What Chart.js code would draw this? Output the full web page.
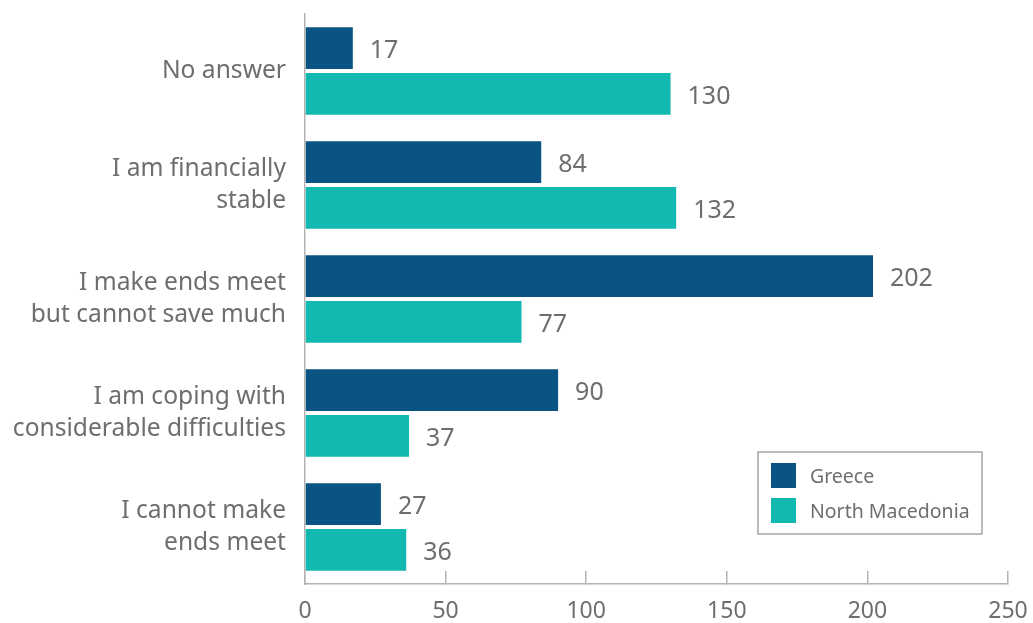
<!DOCTYPE html>
<html>
<head>
<meta charset="utf-8">
<script src="https://cdn.jsdelivr.net/npm/chart.js@4/dist/chart.umd.min.js"></script>
<style>
  html, body { margin: 0; padding: 0; background: #fff; }
  #wrap { width: 1033px; height: 623px; position: relative; }
</style>
</head>
<body>
<div id="wrap"><canvas id="grafica"></canvas></div>
<script>
// answers, top to bottom
var categorias = [
  ['No answer'],
  ['I am financially', 'stable'],
  ['I make ends meet', 'but cannot save much'],
  ['I am coping with', 'considerable difficulties'],
  ['I cannot make', 'ends meet']
]
var series = ['Greece', 'North Macedonia']
var grecia    = [17, 84, 202, 90, 27]
var macedonia = [130, 132, 77, 37, 36]
var ticksX = [0, 50, 100, 150, 200, 250]

var colores = ['#0a5484', '#12b9b1']
var gris = '#6d6e71'
var fuente = "'Noto Sans', sans-serif"

// numbers written just past the end of each bar
var etiquetas = {
  id: 'etiquetas',
  afterDatasetsDraw: function(chart) {
    var ctx = chart.ctx
    ctx.save()
    ctx.font = '25px ' + fuente
    ctx.fillStyle = gris
    ctx.textAlign = 'left'
    ctx.textBaseline = 'middle'
    chart.data.datasets.forEach(function(ds, i) {
      chart.getDatasetMeta(i).data.forEach(function(bar, j) {
        ctx.fillText(ds.data[j], bar.x + 17, bar.y + 3)
      })
    })
    ctx.restore()
  }
}

// boxed legend in the lower right corner of the plot
var leyenda = {
  id: 'leyenda',
  afterDraw: function(chart) {
    var ctx = chart.ctx
    var x = 758, y = 452
    ctx.save()
    ctx.strokeStyle = '#a7a7a7'
    ctx.lineWidth = 1.5
    ctx.fillStyle = '#fff'
    ctx.fillRect(x, y, 224, 82)
    ctx.strokeRect(x, y, 224, 82)
    ctx.font = '19.5px ' + fuente
    ctx.textBaseline = 'middle'
    chart.data.datasets.forEach(function(ds, i) {
      var yy = y + 11 + i * 35
      ctx.fillStyle = ds.backgroundColor
      ctx.fillRect(x + 13, yy, 25, 25)
      ctx.fillStyle = gris
      ctx.fillText(ds.label, x + 52, yy + 14)
    })
    ctx.restore()
  }
}

// no extra room around the plot for half-labels at the ends of the axes
function sinMargen(scale) {
  scale.paddingTop = 0
  scale.paddingBottom = 0
  scale.paddingLeft = 0
  scale.paddingRight = 0
}

var ctx = document.getElementById('grafica').getContext('2d')
var grafica = new Chart(ctx, {
  type: 'bar',
  data: {
    labels: categorias,
    datasets: [
      { label: series[0], data: grecia, backgroundColor: colores[0] },
      { label: series[1], data: macedonia, backgroundColor: colores[1] }
    ]
  },
  options: {
    indexAxis: 'y',
    responsive: true,
    maintainAspectRatio: false,
    animation: false,
    categoryPercentage: 0.805,
    barPercentage: 0.91,
    layout: { padding: { top: 14, right: 25, left: 0, bottom: 0 } },
    scales: {
      x: {
        min: 0,
        max: 250,
        afterBuildTicks: function(scale) {
          scale.ticks = ticksX.map(function(v) { return { value: v } })
        },
        afterFit: function(scale) {
          scale.height = 39
          sinMargen(scale)
        },
        border: { display: true, color: '#b3b3b3', width: 1.5 },
        grid: { drawOnChartArea: false, drawTicks: true, tickLength: -13, color: '#b3b3b3', lineWidth: 1.5 },
        ticks: { color: gris, padding: 27, font: { size: 23, family: fuente } }
      },
      y: {
        afterFit: function(scale) {
          scale.width = 305
          sinMargen(scale)
        },
        border: { display: true, color: '#b3b3b3', width: 1.5 },
        grid: { display: false, drawTicks: false },
        ticks: { color: gris, padding: 19, font: { size: 24.6, family: fuente, lineHeight: 1.3 } }
      }
    },
    plugins: {
      legend: { display: false },
      tooltip: { enabled: false }
    }
  },
  plugins: [etiquetas, leyenda]
})
</script>
</body>
</html>
